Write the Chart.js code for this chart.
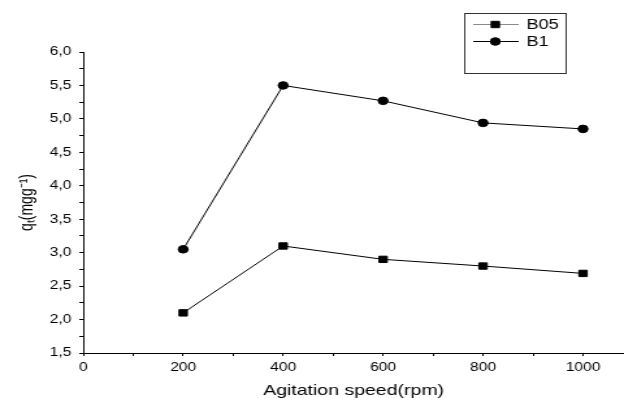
<!DOCTYPE html>
<html>
<head>
<meta charset="utf-8">
<script src="https://cdn.jsdelivr.net/npm/chart.js@4.4.1/dist/chart.umd.min.js"></script>
<style>
  html, body { margin: 0; padding: 0; background: #fff; }
  #c { display: block; width: 624px; height: 398px; }
</style>
</head>
<body>
<canvas id="c" width="480" height="398" style="width:624px;height:398px;"></canvas>
<script>
// ---- data ----
const speeds = [200, 400, 600, 800, 1000];
const seriesB05 = [2.10, 3.10, 2.90, 2.80, 2.69];
const seriesB1 = [3.05, 5.50, 5.27, 4.94, 4.85];
const seriesNames = ['B05', 'B1'];
const xTickValues = [0, 200, 400, 600, 800, 1000];
const xTickLabels = ['0', '200', '400', '600', '800', '1000'];
const yTickValues = [1.5, 2.0, 2.5, 3.0, 3.5, 4.0, 4.5, 5.0, 5.5, 6.0];
const yTickLabels = ['1,5', '2,0', '2,5', '3,0', '3,5', '4,0', '4,5', '5,0', '5,5', '6,0'];
const xTitle = 'Agitation speed(rpm)';
const yTitle = 'qₜ(mgg⁻¹)';

const FONT = "'Liberation Sans', Arial, sans-serif";

function labelFor(values, labels, v) {
  for (let i = 0; i < values.length; i++) {
    if (Math.abs(values[i] - v) < 1e-6) return labels[i];
  }
  return '';
}

const legendPlugin = {
  id: 'boxLegend',
  afterDraw(chart) {
    const ctx = chart.ctx;
    const bx = 357.5, by = 13.5, bw = 78, bh = 60;
    ctx.save();
    ctx.strokeStyle = '#333';
    ctx.lineWidth = 1;
    ctx.strokeRect(bx, by, bw, bh);
    const rows = [24.5, 41.5];
    const sampleColors = ['#8a8a8a', '#000'];
    chart.data.datasets.forEach((ds, i) => {
      const y = rows[i];
      ctx.strokeStyle = sampleColors[i];
      ctx.lineWidth = 1;
      ctx.beginPath();
      ctx.moveTo(364, y);
      ctx.lineTo(399, y);
      ctx.stroke();
      ctx.fillStyle = '#000';
      ctx.strokeStyle = '#000';
      Chart.helpers.drawPoint(ctx, {
        pointStyle: ds.pointStyle,
        radius: ds.pointRadius,
        borderWidth: 1,
        rotation: 0
      }, 381, y);
      ctx.fillStyle = '#000';
      ctx.font = '14px ' + FONT;
      ctx.textBaseline = 'middle';
      ctx.textAlign = 'left';
      ctx.fillText(ds.label, 405, y + 0.5);
    });
    ctx.restore();
  }
};

new Chart(document.getElementById('c'), {
  type: 'scatter',
  data: {
    datasets: [
      {
        label: seriesNames[0],
        data: speeds.map((x, i) => ({ x: x, y: seriesB05[i] })),
        showLine: true,
        borderColor: '#000',
        backgroundColor: '#000',
        borderWidth: 1,
        pointStyle: 'rect',
        pointRadius: 4.5,
        pointBorderWidth: 1
      },
      {
        label: seriesNames[1],
        data: speeds.map((x, i) => ({ x: x, y: seriesB1[i] })),
        showLine: true,
        borderColor: '#000',
        backgroundColor: '#000',
        borderWidth: 1,
        pointStyle: 'circle',
        pointRadius: 3.8,
        pointBorderWidth: 1
      }
    ]
  },
  options: {
    responsive: false,
    devicePixelRatio: 1,
    animation: false,
    layout: { autoPadding: false, padding: { top: 52, right: 0, bottom: 0, left: 0 } },
    plugins: {
      legend: { display: false },
      tooltip: { enabled: false }
    },
    scales: {
      x: {
        type: 'linear',
        min: 0,
        max: 1082,
        afterBuildTicks(scale) {
          const t = [];
          for (let v = 0; v <= 1000; v += 100) t.push({ value: v });
          scale.ticks = t;
        },
        afterFit(scale) { scale.height = 45; },
        ticks: {
          autoSkip: false,
          maxRotation: 0,
          padding: 4,
          color: '#000',
          font: { family: FONT, size: 12 },
          callback: (v) => labelFor(xTickValues, xTickLabels, v)
        },
        grid: {
          drawOnChartArea: false,
          drawTicks: true,
          tickLength: 3,
          color: '#000',
          tickColor: '#000'
        },
        border: { display: true, color: '#000', width: 1 },
        title: {
          display: true,
          text: xTitle,
          color: '#000',
          font: { family: FONT, size: 15, lineHeight: 1 },
          padding: { top: 0, bottom: 0 }
        }
      },
      y: {
        type: 'linear',
        min: 1.5,
        max: 6.0,
        afterBuildTicks(scale) {
          const t = [];
          for (let k = 0; k <= 18; k++) t.push({ value: 1.5 + k * 0.25 });
          scale.ticks = t;
        },
        afterFit(scale) { scale.width = 64; },
        ticks: {
          autoSkip: false,
          padding: 6,
          color: '#000',
          font: { family: FONT, size: 12 },
          callback: (v) => labelFor(yTickValues, yTickLabels, v)
        },
        grid: {
          drawOnChartArea: false,
          drawTicks: true,
          tickLength: 3,
          color: '#000',
          tickColor: '#000'
        },
        border: { display: true, color: '#000', width: 1 },
        title: {
          display: true,
          text: yTitle,
          color: '#000',
          font: { family: FONT, size: 14, lineHeight: 1.2 },
          padding: { top: 13, bottom: 0 }
        }
      }
    }
  },
  plugins: [legendPlugin]
});
</script>
</body>
</html>
